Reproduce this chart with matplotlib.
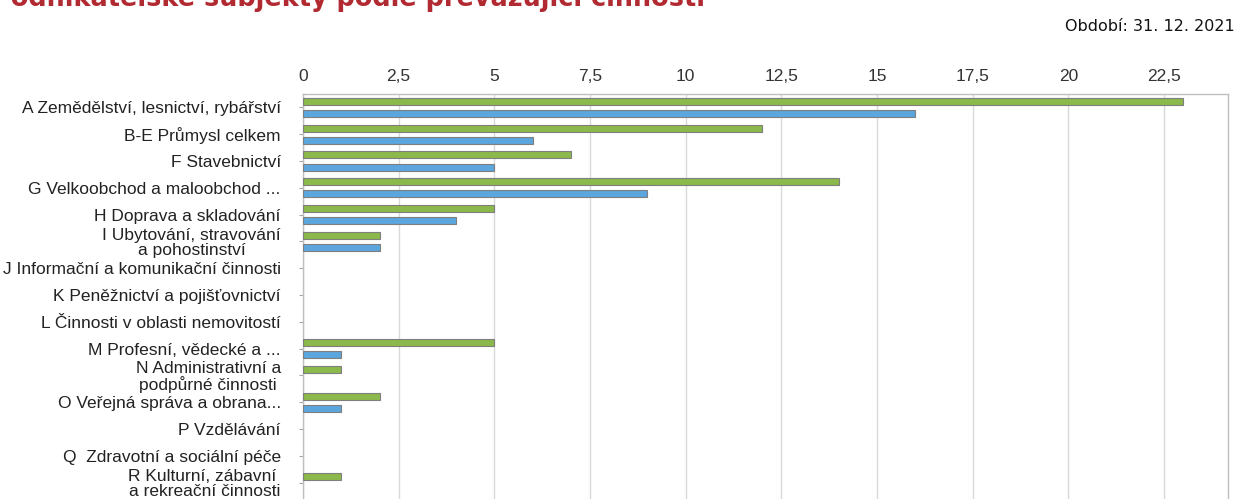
import numpy as np
import matplotlib
matplotlib.use("Agg")
import matplotlib.pyplot as plt

# categories (top to bottom) and the two series
categories = [
    "A Zemědělství, lesnictví, rybářství",
    "B-E Průmysl celkem",
    "F Stavebnictví",
    "G Velkoobchod a maloobchod ...",
    "H Doprava a skladování",
    "I Ubytování, stravování\na pohostinství",
    "J Informační a komunikační činnosti",
    "K Peněžnictví a pojišťovnictví",
    "L Činnosti v oblasti nemovitostí",
    "M Profesní, vědecké a ...",
    "N Administrativní a\npodpůrné činnosti",
    "O Veřejná správa a obrana...",
    "P Vzdělávání",
    "Q  Zdravotní a sociální péče",
    "R Kulturní, zábavní \na rekreační činnosti",
]
green_vals = [23, 12, 7, 14, 5, 2, 0, 0, 0, 5, 1, 2, 0, 0, 1]
blue_vals = [16, 6, 5, 9, 4, 2, 0, 0, 0, 1, 0, 1, 0, 0, 0]
xticks = [0, 2.5, 5, 7.5, 10, 12.5, 15, 17.5, 20, 22.5]
xtick_labels = ["0", "2,5", "5", "7,5", "10", "12,5", "15", "17,5", "20", "22,5"]

title = "Podnikatelské subjekty podle převažující činnosti"
period = "Období: 31. 12. 2021"

W, H = 1237, 499
fig = plt.figure(figsize=(W / 100, H / 100), dpi=100)

lab_font = ["Liberation Sans", "DejaVu Sans"]

# axes geometry in pixels (the plot runs past the bottom edge of the picture)
left_px, right_px, top_px = 303, 1228, 94
slot = 26.8
nslots = len(categories) + 1
bottom_px = top_px + slot * nslots
ax = fig.add_axes([left_px / W, 1 - bottom_px / H,
                   (right_px - left_px) / W, (bottom_px - top_px) / H])

y = np.arange(len(categories))
h = 0.26
off = 0.23
# no outline for empty bars
lw_g = [0.8 if v else 0 for v in green_vals]
lw_b = [0.8 if v else 0 for v in blue_vals]
ax.barh(y - off, green_vals, height=h, color="#8BB94B", edgecolor="#7f7f7f",
        linewidth=lw_g, zorder=3)
ax.barh(y + off, blue_vals, height=h, color="#5CA6DE", edgecolor="#7f7f7f",
        linewidth=lw_b, zorder=3)

ax.set_xlim(0, 24.17)
ax.set_ylim(nslots - 0.5, -0.5)

ax.xaxis.tick_top()
ax.set_xticks(xticks)
ax.set_xticklabels(xtick_labels, family=lab_font, fontsize=12.5, color="#333333")
ax.tick_params(axis="x", length=0, pad=7)
ax.grid(axis="x", color="#d9d9d9", linewidth=1, zorder=0)

ax.set_yticks(y)
ax.set_yticklabels(categories, family=lab_font, fontsize=12.5, color="#222222",
                   multialignment="center")
for t in ax.get_yticklabels():
    t.set_linespacing(1.0)
ax.tick_params(axis="y", length=3, color="#a6a6a6", pad=13)

for s in ax.spines.values():
    s.set_color("#bfbfbf")
    s.set_linewidth(1)

fig.text(-8 / W, 1 - 6 / H, title, fontsize=18.4, fontweight="bold",
         color="#B22A31", ha="left", va="baseline", family="DejaVu Sans")
fig.text(1235 / W, 1 - 31 / H, period, fontsize=11.5, color="#111111",
         ha="right", va="baseline", family="DejaVu Sans")

fig.savefig("out.png", dpi=100)
